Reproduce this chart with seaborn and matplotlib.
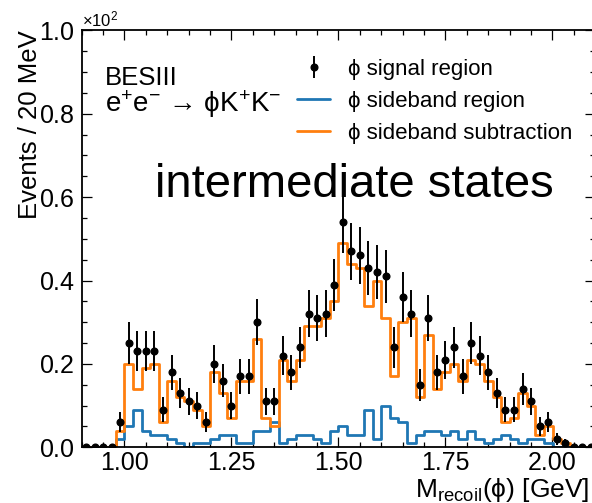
import numpy as np
import pandas as pd
import seaborn as sns
import matplotlib
matplotlib.use("Agg")
import matplotlib.pyplot as plt
from matplotlib.ticker import MultipleLocator, ScalarFormatter, FormatStrFormatter
from matplotlib.lines import Line2D

# ---------------- data ----------------
x_range = (0.90, 2.10)
bin_width = 0.02

signal = [0, 0, 0, 0, 6, 25, 23, 23, 23, 9,
          18, 13, 11, 10, 6, 20, 16, 10, 17, 17,
          30, 11, 11, 22, 18, 24, 32, 31, 32, 39,
          54, 47, 46, 43, 42, 41, 24, 36, 32, 15,
          31, 18, 21, 24, 17, 25, 22, 18, 13, 9,
          9, 14, 11, 5, 6, 2, 1, 0, 0, 0]

sideband = [0, 0, 0, 0, 2, 5, 9, 4, 3, 3,
            2, 1, 0, 1, 1, 2, 3, 3, 1, 1,
            4, 4, 6, 1, 2, 3, 3, 2, 1, 4,
            5, 3, 3, 9, 2, 10, 7, 6, 1, 3,
            4, 4, 3, 4, 2, 4, 2, 1, 2, 3,
            2, 1, 2, 2, 1, 0, 0, 0, 0, 0]

subtraction = [0, 0, 0, 0, 4, 20, 14, 19, 20, 6,
               16, 12, 11, 9, 5, 18, 13, 7, 16, 16,
               26, 7, 5, 21, 16, 21, 29, 29, 31, 35,
               49, 44, 43, 34, 40, 31, 17, 30, 31, 12,
               27, 14, 18, 20, 16, 21, 20, 16, 12, 6,
               7, 13, 10, 3, 5, 2, 1, 0, 0, 0]

legend_labels = ["ϕ signal region", "ϕ sideband region", "ϕ sideband subtraction"]
x_ticks = [1.00, 1.25, 1.50, 1.75, 2.00]

edges = np.round(np.arange(x_range[0], x_range[1] + bin_width / 2, bin_width), 3)
centers = np.round((edges[:-1] + edges[1:]) / 2, 3)

df = pd.DataFrame({"mass": centers, "signal": signal,
                   "sideband": sideband, "subtraction": subtraction})

# ---------------- style ----------------
sns.set_style("ticks")
fam = ["Liberation Sans", "DejaVu Sans"]
plt.rcParams.update({
    "font.family": fam,
    "text.color": "black",
    "axes.labelcolor": "black",
    "mathtext.fontset": "custom",
    "mathtext.rm": "Liberation Sans",
    "mathtext.it": "Liberation Sans:italic",
    "mathtext.bf": "Liberation Sans:bold",
    "axes.linewidth": 1.3,
    "axes.edgecolor": "black",
    "xtick.direction": "in",
    "ytick.direction": "in",
    "xtick.top": True,
    "ytick.right": True,
    "xtick.major.size": 7,
    "ytick.major.size": 7,
    "xtick.minor.size": 3.5,
    "ytick.minor.size": 3.5,
    "xtick.major.width": 0.9,
    "ytick.major.width": 0.9,
    "xtick.minor.width": 0.9,
    "ytick.minor.width": 0.9,
    "xtick.color": "black",
    "ytick.color": "black",
    "xtick.labelcolor": "black",
    "ytick.labelcolor": "black",
})

W, H = 592, 503
fig = plt.figure(figsize=(W / 100, H / 100), dpi=100)
ax = fig.add_axes([81.7 / W, (H - 447.3) / H, 513.6 / W, 417 / H])

blue = "#1f77b4"
orange = "#ff7f0e"

sns.histplot(data=df, x="mass", weights="sideband", binwidth=bin_width,
             binrange=x_range, element="step", fill=False, color=blue,
             linewidth=2.0, ax=ax)
sns.histplot(data=df, x="mass", weights="subtraction", binwidth=bin_width,
             binrange=x_range, element="step", fill=False, color=orange,
             linewidth=2.0, ax=ax)
eb = ax.errorbar(df["mass"], df["signal"], yerr=np.sqrt(df["signal"]), fmt="o",
                 color="black", ms=4.8, elinewidth=1.4, capsize=0, zorder=5)

ax.set_xlim(*x_range)
ax.set_ylim(0, 100)
ax.xaxis.set_major_locator(MultipleLocator(0.25))
ax.xaxis.set_minor_locator(MultipleLocator(0.05))
ax.xaxis.set_major_formatter(FormatStrFormatter("%.2f"))
ax.set_xticks(x_ticks)
ax.yaxis.set_major_locator(MultipleLocator(20))
ax.yaxis.set_minor_locator(MultipleLocator(5))
fmt = ScalarFormatter(useMathText=True)
fmt.set_powerlimits((0, 0))
ax.yaxis.set_major_formatter(fmt)
ax.tick_params(axis="x", which="major", labelsize=18, pad=3)
ax.tick_params(axis="y", which="major", labelsize=18, pad=5)
ax.yaxis.get_offset_text().set_fontsize(12)

ax.set_xlabel(r"M$_{\mathregular{recoil}}$(ϕ) [GeV]", fontsize=19, loc="right")
ax.xaxis.set_label_coords(0.988, -0.068)
ax.set_ylabel("Events / 20 MeV", fontsize=18.5, loc="top")
ax.yaxis.set_label_coords(-0.077, 1.0)

ax.text(0.046, 0.869, "BESIII", transform=ax.transAxes, fontsize=18.5,
        ha="left", va="baseline")
ax.text(0.046, 0.804, r"e$^{+}$e$^{-}$ → ϕK$^{+}$K$^{-}$", transform=ax.transAxes,
        fontsize=20, ha="left", va="baseline")
ax.text(0.530, 0.601, "intermediate states", transform=ax.transAxes, fontsize=34,
        ha="center", va="baseline")

handles = [eb,
           Line2D([], [], color=blue, lw=2.0),
           Line2D([], [], color=orange, lw=2.0)]
ax.legend(handles, legend_labels, loc="upper left",
          bbox_to_anchor=((297 - 81.7) / 513.6, (447.3 - 59) / 417),
          frameon=False, fontsize=16, borderpad=0, borderaxespad=0,
          handlelength=1.5, handletextpad=0.8, labelspacing=0.5)

fig.savefig("out.png", dpi=100)
